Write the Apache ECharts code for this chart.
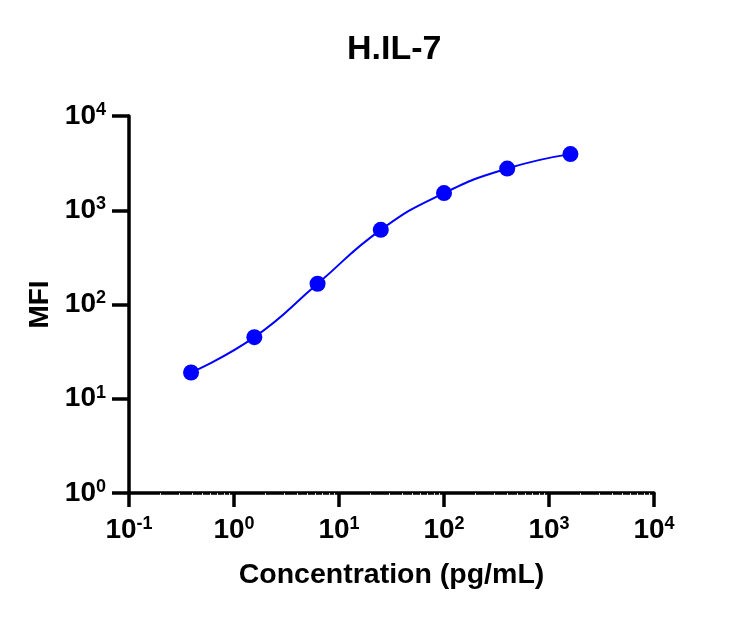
<!DOCTYPE html>
<html lang="en">
<head>
    <meta charset="UTF-8">
    <title>H.IL-7</title>
    <script src="https://cdn.jsdelivr.net/npm/echarts@6/dist/echarts.min.js"></script>
    <style>
        html, body {margin: 0; padding: 0; background: #fff;}
        #main {width: 746px; height: 623px;}
    </style>
</head>
<body>
<div id="main"></div>
<script type="text/javascript">
    // concentration (pg/mL), 4-fold dilution series
    var concentration = [0.39, 1.5625, 6.25, 25, 100, 400, 1600];
    // MFI
    var mfi = [19, 45, 166, 620, 1520, 2770, 3940];

    var chartTitle = 'H.IL-7';
    var xName = 'Concentration (pg/mL)';
    var yName = 'MFI';

    var font = 'Arial, "Liberation Sans", sans-serif';

    function powLabel(v) {
        var e = Math.round(Math.log(v) / Math.LN10);
        return '{b|10}{s|' + e + '}';
    }
    var richLabel = {
        b: {fontSize: 28, fontWeight: 'bold', fontFamily: font, color: '#000', lineHeight: 30},
        s: {fontSize: 18, fontWeight: 'bold', fontFamily: font, color: '#000', verticalAlign: 'top', lineHeight: 18}
    };

    var points = concentration.map(function (c, i) { return [c, mfi[i]]; });

    var myChart = echarts.init(document.getElementById('main'));
    myChart.setOption({
        animation: false,
        backgroundColor: '#fff',
        title: {
            text: chartTitle,
            left: 342,
            top: 28,
            textStyle: {fontSize: 34, fontWeight: 'bold', fontFamily: font, color: '#000'}
        },
        grid: {left: 129, right: 92, top: 116, bottom: 130},
        xAxis: {
            type: 'log',
            logBase: 10,
            min: 0.1,
            max: 10000,
            splitNumber: 5,
            name: xName,
            nameLocation: 'middle',
            nameGap: 68,
            nameTextStyle: {fontSize: 28.5, fontWeight: 'bold', fontFamily: font, color: '#000'},
            axisLine: {lineStyle: {color: '#000', width: 3.5}},
            axisTick: {length: 14, lineStyle: {color: '#000', width: 3.5}},
            minorTick: {show: true, splitNumber: 9, length: 2, lineStyle: {color: '#d4d4d4', width: 1}},
            splitLine: {show: false},
            axisLabel: {margin: 22, formatter: powLabel, rich: richLabel}
        },
        yAxis: {
            type: 'log',
            logBase: 10,
            min: 1,
            max: 10000,
            splitNumber: 4,
            name: yName,
            nameLocation: 'middle',
            nameGap: 75,
            nameRotate: 90,
            nameTextStyle: {fontSize: 28, fontWeight: 'bold', fontFamily: font, color: '#000'},
            axisLine: {lineStyle: {color: '#000', width: 3.5}},
            axisTick: {length: 17, lineStyle: {color: '#000', width: 3.5}},
            splitLine: {show: false},
            axisLabel: {margin: 23, formatter: powLabel, rich: richLabel}
        },
        series: [
            {
                name: 'fit',
                type: 'line',
                data: points,
                smooth: true,
                showSymbol: false,
                silent: true,
                lineStyle: {color: '#0000ff', width: 2},
                z: 2
            },
            {
                name: yName,
                type: 'scatter',
                data: points,
                symbol: 'circle',
                symbolSize: 16,
                itemStyle: {color: '#0000ff', opacity: 1},
                z: 3
            }
        ]
    });
</script>
</body>
</html>
